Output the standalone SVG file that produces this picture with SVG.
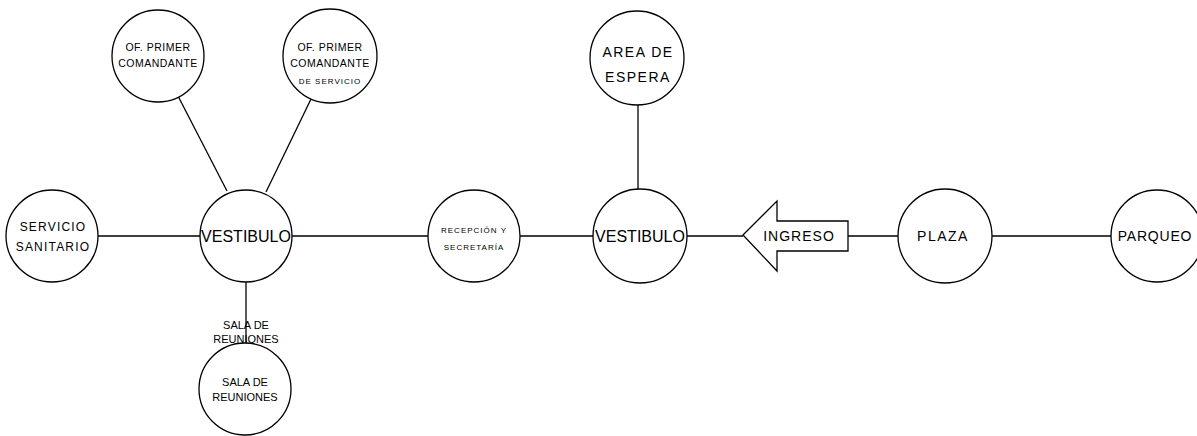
<svg xmlns="http://www.w3.org/2000/svg" width="1197" height="436" viewBox="0 0 1197 436">
<style>
circle{fill:#fff;stroke:#000;stroke-width:1.3}
.c line,.c polygon{stroke:#000;stroke-width:1.3}
text{font-family:"Liberation Sans",Arial,sans-serif;fill:#000;text-anchor:middle}
.s16{font-size:16px}
.s14{font-size:14px;letter-spacing:1.5px}
.s14b{font-size:14px;letter-spacing:1px}
.s12{font-size:12px;letter-spacing:1.2px}
.s11{font-size:11px}
.s10{font-size:10.5px;letter-spacing:0.5px}
.s8{font-size:8px;letter-spacing:1px}
</style>
<rect width="1197" height="436" fill="#fff"/>
<g id="connectors" class="c">
<line x1="98" y1="236" x2="200" y2="236"/>
<line x1="292" y1="236" x2="428" y2="236"/>
<line x1="520" y1="236" x2="593" y2="236"/>
<line x1="687" y1="236" x2="743" y2="236"/>
<line x1="848" y1="236" x2="898" y2="236"/>
<line x1="992" y1="236" x2="1111" y2="236"/>
<line x1="246" y1="282" x2="246" y2="343"/>
<line x1="638" y1="105" x2="638" y2="190"/>
<line x1="178" y1="96" x2="227" y2="191"/>
<line x1="311" y1="99" x2="266" y2="192"/>
</g>
<g id="of-primer"><circle cx="158" cy="56" r="46"/><text class="s10" x="158" y="51">OF. PRIMER</text><text class="s10" x="158" y="67">COMANDANTE</text></g>
<g id="of-primer-servicio"><circle cx="330" cy="56" r="47"/><text class="s10" x="330" y="51">OF. PRIMER</text><text class="s10" x="330" y="67">COMANDANTE</text><text class="s8" x="330" y="84">DE SERVICIO</text></g>
<g id="servicio-sanitario"><circle cx="52" cy="236" r="46"/><text class="s12" x="53" y="231">SERVICIO</text><text class="s12" x="53" y="251">SANITARIO</text></g>
<g id="vestibulo1"><circle cx="246" cy="236" r="46"/><text class="s16" x="246" y="242">VESTIBULO</text></g>
<g id="sala-label"><text class="s11" x="246" y="329">SALA DE</text><text class="s11" x="246" y="343">REUNIONES</text></g>
<g id="sala-reuniones"><circle cx="245" cy="389" r="46"/><text class="s11" x="245" y="386">SALA DE</text><text class="s11" x="245" y="401">REUNIONES</text></g>
<g id="recepcion"><circle cx="474" cy="236" r="46"/><text class="s8" x="474" y="233">RECEPCIÓN Y</text><text class="s8" x="474" y="250">SECRETARÍA</text></g>
<g id="vestibulo2"><circle cx="640" cy="236" r="47"/><text class="s16" x="640" y="242">VESTIBULO</text></g>
<g id="area-espera"><circle cx="637" cy="58" r="47"/><text class="s14" x="638" y="57">AREA DE</text><text class="s14" x="638" y="82">ESPERA</text></g>
<g id="ingreso" class="c"><polygon points="743,235 777,201 777,221 848,221 848,251 777,251 777,271" fill="#fff"/><text class="s14b" x="799" y="241" stroke="none">INGRESO</text></g>
<g id="plaza"><circle cx="945" cy="236" r="47"/><text class="s14" x="943" y="241">PLAZA</text></g>
<g id="parqueo"><circle cx="1157" cy="236" r="46"/><text class="s14b" x="1155" y="241" style="letter-spacing:0.8px">PARQUEO</text></g>
</svg>
